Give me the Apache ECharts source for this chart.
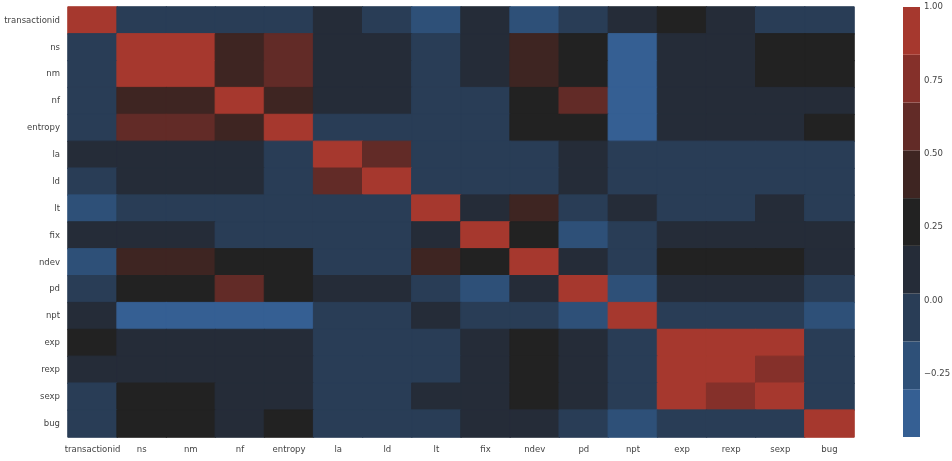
<!DOCTYPE html>
<html lang="en">

<head>
  <meta charset="UTF-8">
  <title>correlation heatmap</title>
  <script src="https://cdn.jsdelivr.net/npm/echarts@6/dist/echarts.min.js"></script>
  <style>
    html, body { margin: 0; padding: 0; background: #fff; }
    #main { width: 952px; height: 461px; }
  </style>
</head>

<body>
<div id="main"></div>

<script>
  // metric names (same order on both axes)
  var labels = ['transactionid', 'ns', 'nm', 'nf', 'entropy', 'la', 'ld', 'lt',
    'fix', 'ndev', 'pd', 'npt', 'exp', 'rexp', 'sexp', 'bug'];

  // correlation values (row = y label)
  var rowTransactionid = [1, -0.05, -0.04, -0.06, -0.05, 0.05, -0.02, -0.22, 0.08, -0.2, -0.03, 0.1, 0.28, 0.15, -0.01, -0.04];
  var rowNs = [-0.05, 1, 0.99, 0.45, 0.6, 0.12, 0.1, -0.04, 0.09, 0.42, 0.3, -0.46, 0.14, 0.13, 0.25, 0.24];
  var rowNm = [-0.04, 0.99, 1, 0.44, 0.59, 0.12, 0.1, -0.04, 0.09, 0.41, 0.3, -0.45, 0.14, 0.13, 0.25, 0.24];
  var rowNf = [-0.06, 0.45, 0.44, 1, 0.47, 0.15, 0.13, -0.02, -0.03, 0.33, 0.62, -0.42, 0.12, 0.11, 0.12, 0.17];
  var rowEntropy = [-0.05, 0.6, 0.59, 0.47, 1, -0.03, -0.02, 0.0, -0.01, 0.3, 0.28, -0.4, 0.1, 0.09, 0.12, 0.22];
  var rowLa = [0.05, 0.12, 0.12, 0.15, -0.03, 1, 0.6, -0.05, -0.03, -0.04, 0.08, -0.06, -0.04, -0.04, -0.05, -0.02];
  var rowLd = [-0.02, 0.1, 0.1, 0.13, -0.02, 0.6, 1, -0.05, -0.02, -0.03, 0.07, -0.05, -0.03, -0.04, -0.04, -0.03];
  var rowLt = [-0.22, -0.04, -0.04, -0.02, 0.0, -0.05, -0.05, 1, 0.1, 0.4, -0.06, 0.1, -0.03, -0.03, 0.08, -0.07];
  var rowFix = [0.08, 0.09, 0.09, -0.03, -0.01, -0.03, -0.02, 0.1, 1, 0.22, -0.2, -0.05, 0.07, 0.06, 0.06, 0.12];
  var rowNdev = [-0.2, 0.42, 0.41, 0.33, 0.3, -0.04, -0.03, 0.4, 0.22, 1, 0.16, -0.08, 0.3, 0.29, 0.29, 0.14];
  var rowPd = [-0.03, 0.3, 0.3, 0.62, 0.28, 0.08, 0.07, -0.06, -0.2, 0.16, 1, -0.18, 0.1, 0.1, 0.11, -0.06];
  var rowNpt = [0.1, -0.46, -0.45, -0.42, -0.4, -0.06, -0.05, 0.1, -0.05, -0.08, -0.18, 1, -0.1, -0.09, -0.08, -0.2];
  var rowExp = [0.28, 0.14, 0.14, 0.12, 0.1, -0.04, -0.03, -0.03, 0.07, 0.3, 0.1, -0.1, 1, 0.95, 0.9, -0.07];
  var rowRexp = [0.15, 0.13, 0.13, 0.11, 0.09, -0.04, -0.04, -0.03, 0.06, 0.29, 0.1, -0.09, 0.95, 1, 0.78, -0.06];
  var rowSexp = [-0.01, 0.25, 0.25, 0.12, 0.12, -0.05, -0.04, 0.08, 0.06, 0.29, 0.11, -0.08, 0.9, 0.78, 1, -0.05];
  var rowBug = [-0.04, 0.24, 0.24, 0.17, 0.22, -0.02, -0.03, -0.07, 0.12, 0.14, -0.06, -0.2, -0.07, -0.06, -0.05, 1];

  var rows = [rowTransactionid, rowNs, rowNm, rowNf, rowEntropy, rowLa, rowLd, rowLt,
    rowFix, rowNdev, rowPd, rowNpt, rowExp, rowRexp, rowSexp, rowBug];

  // colour bar range and ticks
  var vmin = -0.4645;
  var vmax = 1.0;
  var cbTicks = [-0.25, 0, 0.25, 0.5, 0.75, 1.0];

  // diverging palette, dark centre, 9 steps (low -> high)
  var palette = ['#355f93', '#2e5078', '#293d56', '#252c38', '#222222',
    '#3e2522', '#622b27', '#85302a', '#a6382e'];

  var chartDom = document.getElementById('main');
  var myChart = echarts.init(chartDom);
  var option;

  var step = (vmax - vmin) / palette.length;

  // which colour bin a value falls in
  function binOf(v) {
    var k = Math.floor((v - vmin) / step);
    if (k < 0) k = 0;
    if (k > palette.length - 1) k = palette.length - 1;
    return k;
  }

  var cells = [];
  for (var r = 0; r < rows.length; r++) {
    for (var c = 0; c < rows[r].length; c++) {
      var col = palette[binOf(rows[r][c])];
      cells.push({
        value: [c, r, rows[r][c]],
        itemStyle: { color: col, borderColor: col, borderWidth: 1 }
      });
    }
  }

  // bands of the colour bar
  var bands = [];
  for (var i = 0; i < palette.length; i++) {
    bands.push([vmin + i * step, vmin + (i + 1) * step, i]);
  }

  var fmt = function (v) {
    return Number(v).toFixed(2).replace('-', '\u2212');
  };

  var labelStyle = { color: '#444', fontSize: 8.5, fontFamily: 'DejaVu Sans' };

  option = {
    animation: false,
    backgroundColor: '#fff',
    grid: [
      { left: 68, right: 98, top: 7, bottom: 24, outerBoundsMode: 'none', containLabel: false },
      { left: 903, width: 17, top: 7, bottom: 24, outerBoundsMode: 'none', containLabel: false }
    ],
    xAxis: [
      {
        type: 'category',
        data: labels,
        gridIndex: 0,
        axisLine: { show: false },
        axisTick: { show: false },
        splitLine: { show: false },
        axisLabel: Object.assign({ margin: 8, interval: 0 }, labelStyle)
      },
      {
        type: 'value', gridIndex: 1, min: 0, max: 1, show: false
      }
    ],
    yAxis: [
      {
        type: 'category',
        data: labels,
        inverse: true,
        gridIndex: 0,
        axisLine: { show: false },
        axisTick: { show: false },
        splitLine: { show: false },
        axisLabel: Object.assign({ margin: 8, interval: 0 }, labelStyle)
      },
      {
        type: 'value',
        gridIndex: 1,
        min: vmin,
        max: vmax,
        position: 'right',
        axisLine: { show: false },
        splitLine: { show: false },
        axisTick: { show: true, length: 4, customValues: cbTicks, lineStyle: { color: '#444' } },
        axisLabel: Object.assign({ margin: 4, customValues: cbTicks, formatter: fmt }, labelStyle)
      }
    ],
    series: [
      {
        type: 'heatmap',
        xAxisIndex: 0,
        yAxisIndex: 0,
        data: cells,
        emphasis: { disabled: true }
      },
      {
        type: 'custom',
        xAxisIndex: 1,
        yAxisIndex: 1,
        data: bands,
        renderItem: function (params, api) {
          var top = api.coord([0, api.value(1)]);
          var bot = api.coord([1, api.value(0)]);
          return {
            type: 'rect',
            shape: { x: top[0], y: top[1], width: bot[0] - top[0], height: bot[1] - top[1] },
            style: { fill: palette[api.value(2)] }
          };
        }
      }
    ]
  };

  option && myChart.setOption(option);
</script>

</body>

</html>
